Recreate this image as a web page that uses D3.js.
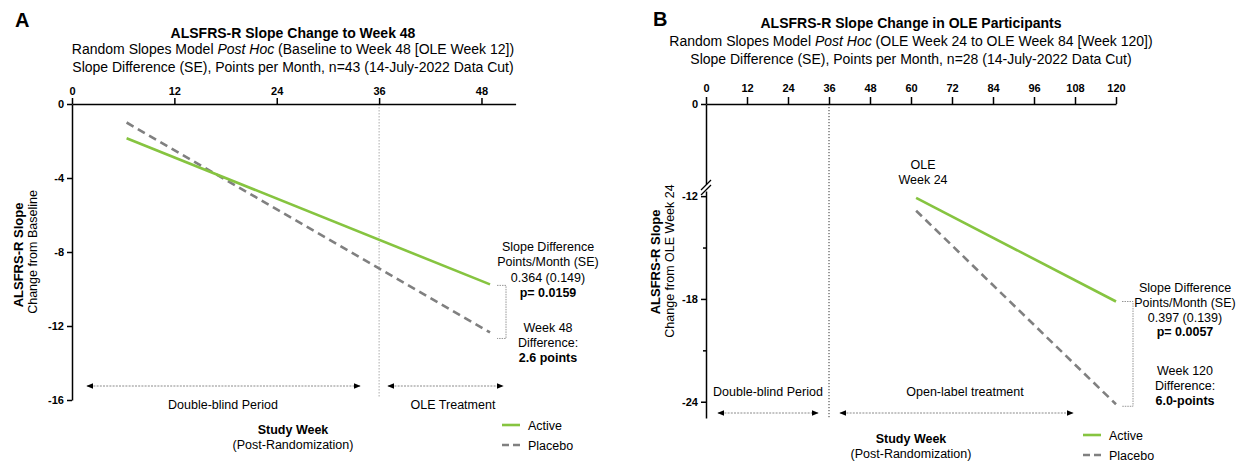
<!DOCTYPE html>
<html>
<head>
<meta charset="utf-8">
<script src="https://cdn.jsdelivr.net/npm/d3@7"></script>
<style>
  html, body { margin: 0; padding: 0; background: #fff; }
  svg { display: block; font-family: "Liberation Sans", Arial, Helvetica, sans-serif; }
  .tick text { font-weight: bold; font-size: 11px; fill: #000; }
  .domain, .tick line { stroke: #000; stroke-width: 1.5; }
</style>
</head>
<body>
<svg id="chart" width="1240" height="462"></svg>
<script>
// panel A: baseline to week 48
const weeksA = [6.4, 49];
const activeA = [-1.85, -9.75];
const placeboA = [-1.0, -12.35];
const xTicksA = [0, 12, 24, 36, 48];
const yTicksA = [0, -4, -8, -12, -16];

// panel B: OLE participants
const weeksB = [61.5, 120];
const activeB = [-12.1, -18.15];
const placeboB = [-12.85, -24.15];
const xTicksB = [0, 12, 24, 36, 48, 60, 72, 84, 96, 108, 120];
const yTicksB = [-12, -18, -24];
const yMinorB = [-15, -21];

const GREEN = '#86c440';
const GREY = '#808080';
const DOT = '#8a8a8a';
const fmt = d => String(d); // plain hyphen minus, like the original

const svg = d3.select('#chart');

const defs = svg.append('defs');
defs.append('marker').attr('id', 'arr').attr('viewBox', '0 0 10 10')
  .attr('refX', 9).attr('refY', 5).attr('markerWidth', 7).attr('markerHeight', 7)
  .attr('orient', 'auto-start-reverse')
  .append('path').attr('d', 'M0,1 L10,5 L0,9 Z').attr('fill', '#000');

function txt(x, y, s, opt = {}) {
  return svg.append('text').attr('x', x).attr('y', y)
    .attr('text-anchor', opt.anchor || 'middle')
    .attr('font-size', opt.size || 12.5)
    .attr('font-weight', opt.bold ? 'bold' : null)
    .attr('fill', '#000')
    .text(s);
}

function multi(x, y, lines, lh, size) {
  lines.forEach((l, i) => txt(x, y + i * lh, l.t, { bold: l.b, size }));
}

function arrow(x1, x2, y) {
  svg.append('line').attr('x1', x1).attr('x2', x2).attr('y1', y).attr('y2', y)
    .attr('stroke', DOT).attr('stroke-width', 1).attr('stroke-dasharray', '2,1.2')
    .attr('marker-start', 'url(#arr)').attr('marker-end', 'url(#arr)');
}

function vlabel(x, y, s, bold, size) {
  svg.append('text').attr('transform', `translate(${x},${y}) rotate(-90)`)
    .attr('text-anchor', 'middle').attr('dominant-baseline', 'central')
    .attr('font-size', size).attr('font-weight', bold ? 'bold' : null)
    .text(s);
}

function series(g, x, y, weeks, vals, color, dash) {
  const pts = weeks.map((w, i) => [x(w), y(vals[i])]);
  g.append('path').attr('d', d3.line()(pts))
    .attr('fill', 'none').attr('stroke', color).attr('stroke-width', 2.6)
    .attr('stroke-dasharray', dash);
}

function legend(x, y) {
  svg.append('line').attr('x1', x).attr('x2', x + 18).attr('y1', y).attr('y2', y)
    .attr('stroke', GREEN).attr('stroke-width', 2.6);
  txt(x + 26, y + 4.5, 'Active', { anchor: 'start' });
  svg.append('line').attr('x1', x).attr('x2', x + 18).attr('y1', y + 20).attr('y2', y + 20)
    .attr('stroke', GREY).attr('stroke-width', 2.6).attr('stroke-dasharray', '7,4');
  txt(x + 26, y + 24.5, 'Placebo', { anchor: 'start' });
}

// ---------- Panel A ----------
const xA = d3.scaleLinear().domain([0, 52]).range([72, 515.6]);
const yA = d3.scaleLinear().domain([0, -16]).range([104, 400]);

txt(15, 27, 'A', { anchor: 'start', bold: true, size: 20 });
txt(293, 38, 'ALSFRS-R Slope Change to Week 48', { bold: true, size: 14 });
const subA = txt(293, 54, 'Random Slopes Model ', { size: 14 });
subA.append('tspan').attr('font-style', 'italic').text('Post Hoc');
subA.append('tspan').text(' (Baseline to Week 48 [OLE Week 12])');
txt(293, 72, 'Slope Difference (SE), Points per Month, n=43 (14-July-2022 Data Cut)', { size: 14 });

const gA = svg.append('g');
gA.append('line').attr('x1', xA(36)).attr('x2', xA(36)).attr('y1', yA(0)).attr('y2', 398)
  .attr('stroke', '#999').attr('stroke-width', 0.8).attr('stroke-dasharray', '1.5,1.5');

gA.append('g').attr('transform', `translate(0,${yA(0)})`)
  .call(d3.axisTop(xA).tickValues(xTicksA).tickFormat(fmt).tickSize(6).tickSizeOuter(0).tickPadding(3));
gA.append('g').attr('transform', `translate(${xA(0)},0)`)
  .call(d3.axisLeft(yA).tickValues(yTicksA).tickFormat(fmt).tickSize(5).tickSizeOuter(0).tickPadding(3));

series(gA, xA, yA, weeksA, placeboA, GREY, '8,5');
series(gA, xA, yA, weeksA, activeA, GREEN, null);

vlabel(18, 255, 'ALSFRS-R Slope', true, 13);
vlabel(33, 252, 'Change from Baseline', false, 12.5);

arrow(87, 360, 386);
arrow(388, 503, 386);
txt(223, 409, 'Double-blind Period');
txt(453, 409, 'OLE Treatment');
txt(293, 434, 'Study Week', { bold: true, size: 12.5 });
txt(293, 449, '(Post-Randomization)');

const endA = weeksA.length - 1;
svg.append('path')
  .attr('d', `M497,${yA(activeA[endA]) + 1}H506V${yA(placeboA[endA]) + 6}H497`)
  .attr('fill', 'none').attr('stroke', DOT).attr('stroke-width', 0.9).attr('stroke-dasharray', '1.5,1');
multi(548, 251, [
  { t: 'Slope Difference' }, { t: 'Points/Month (SE)' }, { t: '0.364 (0.149)' }, { t: 'p= 0.0159', b: true }
], 15.3, 12.5);
multi(548, 332, [
  { t: 'Week 48' }, { t: 'Difference:' }, { t: '2.6 points', b: true }
], 15, 12.5);
legend(502, 425);

// ---------- Panel B ----------
const xB = d3.scaleLinear().domain([0, 120]).range([706, 1116]);
const yTopB = d3.scaleLinear().domain([0, -5]).range([104, 184]);
const yB = d3.scaleLinear().domain([-11.7, -24.95]).range([191, 418]);

txt(653, 26, 'B', { anchor: 'start', bold: true, size: 20 });
txt(911, 28, 'ALSFRS-R Slope Change in OLE Participants', { bold: true, size: 14 });
const subB = txt(911, 46, 'Random Slopes Model ', { size: 14 });
subB.append('tspan').attr('font-style', 'italic').text('Post Hoc');
subB.append('tspan').text(' (OLE Week 24 to OLE Week 84 [Week 120])');
txt(911, 64, 'Slope Difference (SE), Points per Month, n=28 (14-July-2022 Data Cut)', { size: 14 });

const gB = svg.append('g');
gB.append('line').attr('x1', xB(36)).attr('x2', xB(36)).attr('y1', yTopB(0)).attr('y2', 418)
  .attr('stroke', '#333').attr('stroke-width', 1).attr('stroke-dasharray', '1.2,1.8');

gB.append('g').attr('transform', `translate(0,${yTopB(0)})`)
  .call(d3.axisTop(xB).tickValues(xTicksB).tickFormat(fmt).tickSize(7).tickSizeOuter(0).tickPadding(5));
gB.append('g').attr('transform', `translate(${xB(0)},0)`)
  .call(d3.axisLeft(yTopB).tickValues([0]).tickFormat(fmt).tickSize(5).tickSizeOuter(0).tickPadding(3));
gB.append('g').attr('transform', `translate(${xB(0)},0)`)
  .call(d3.axisLeft(yB).tickValues(yTicksB).tickFormat(fmt).tickSize(5).tickSizeOuter(0).tickPadding(3));
gB.append('g').attr('transform', `translate(${xB(0)},0)`)
  .call(d3.axisLeft(yB).tickValues(yMinorB).tickSize(3).tickFormat(''))
  .select('.domain').remove();

// axis break marks
[0, 5].forEach(dy => {
  gB.append('line').attr('x1', xB(0) - 5).attr('x2', xB(0) + 5)
    .attr('y1', 190 + dy).attr('y2', 180 + dy)
    .attr('stroke', '#000').attr('stroke-width', 1.3);
});

series(gB, xB, yB, weeksB, placeboB, GREY, '8,5');
series(gB, xB, yB, weeksB, activeB, GREEN, null);

multi(923, 169, [{ t: 'OLE' }, { t: 'Week 24' }], 15, 12.5);

vlabel(655, 262, 'ALSFRS-R Slope', true, 13);
vlabel(670, 261, 'Change from OLE Week 24', false, 12.5);

arrow(718, 818, 413);
arrow(840, 1073, 413);
txt(768, 396, 'Double-blind Period');
txt(965, 396, 'Open-label treatment');
txt(911, 443, 'Study Week', { bold: true, size: 12.5 });
txt(911, 458, '(Post-Randomization)');

const endB = weeksB.length - 1;
svg.append('path')
  .attr('d', `M1122,${yB(activeB[endB])}H1133V${yB(placeboB[endB]) + 2}H1122`)
  .attr('fill', 'none').attr('stroke', DOT).attr('stroke-width', 0.9).attr('stroke-dasharray', '1.5,1');
multi(1185, 292, [
  { t: 'Slope Difference' }, { t: 'Points/Month (SE)' }, { t: '0.397 (0.139)' }, { t: 'p= 0.0057', b: true }
], 14.8, 12.5);
multi(1185, 375, [
  { t: 'Week 120' }, { t: 'Difference:' }, { t: '6.0-points', b: true }
], 14.8, 12.5);
legend(1083, 435);
</script>
</body>
</html>
